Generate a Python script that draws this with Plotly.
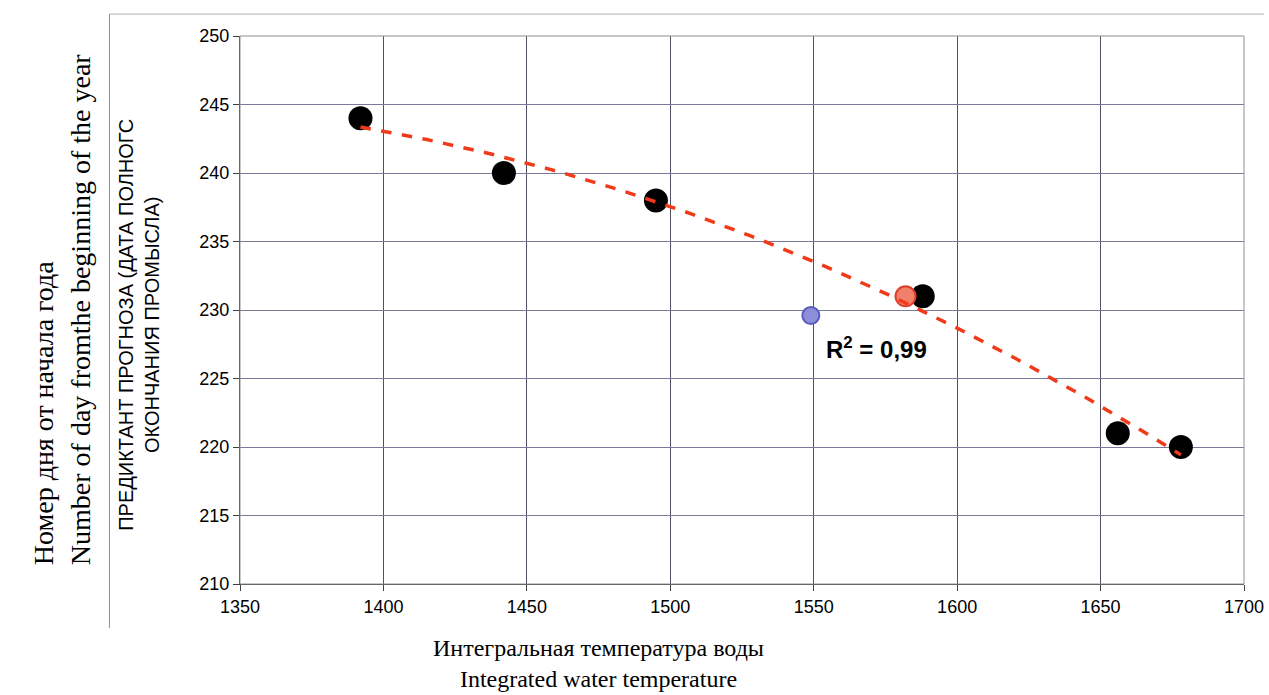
import numpy as np
import plotly.graph_objects as go

# Observed data (black points)
temp_obs = [1392, 1442, 1495, 1588, 1656, 1678]
day_obs = [244, 240, 238, 231, 221, 220]
# Forecast points
temp_fc_orange = [1582]
day_fc_orange = [231]
temp_fc_blue = [1549]
day_fc_blue = [229.6]

x_ticks = [1350, 1400, 1450, 1500, 1550, 1600, 1650, 1700]
y_ticks = [210, 215, 220, 225, 230, 235, 240, 245, 250]

# Polynomial trendline (2nd order) through observed data
coef = np.polyfit(temp_obs, day_obs, 2)
xt = np.linspace(min(temp_obs), max(temp_obs), 100)
yt = np.polyval(coef, xt)

fig = go.Figure()
fig.add_trace(go.Scatter(x=temp_obs, y=day_obs, mode="markers",
                         marker=dict(size=24, color="black"), showlegend=False))
fig.add_trace(go.Scatter(x=temp_fc_orange, y=day_fc_orange, mode="markers",
                         marker=dict(size=20, color="#f0806a", line=dict(color="#e0402a", width=2)),
                         showlegend=False))
fig.add_trace(go.Scatter(x=xt, y=yt, mode="lines",
                         line=dict(color="#f03a1a", width=3.5, dash="dash"), showlegend=False))
fig.add_trace(go.Scatter(x=temp_fc_blue, y=day_fc_blue, mode="markers",
                         marker=dict(size=17, color="#8c8ed8", line=dict(color="#5a5cc0", width=2)),
                         showlegend=False))

axis_font = dict(family="Liberation Sans, Arial", size=18, color="black")
fig.update_xaxes(range=[1350, 1700], tickvals=x_ticks, showgrid=True, gridcolor="#505060",
                 gridwidth=1, ticks="outside", ticklen=6, tickcolor="#404040",
                 showline=True, linecolor="#404040", linewidth=1, tickfont=axis_font,
                 zeroline=False, automargin=False)
fig.update_yaxes(range=[210, 250], tickvals=y_ticks, showgrid=True, gridcolor="#7a7a9a",
                 gridwidth=1, ticks="outside", ticklen=6, tickcolor="#404040",
                 showline=True, linecolor="#404040", linewidth=1, tickfont=axis_font,
                 zeroline=False, automargin=False)

fig.update_layout(
    width=1269, height=695,
    margin=dict(l=240, r=25, t=36, b=111),
    plot_bgcolor="white", paper_bgcolor="white",
    shapes=[
        dict(type="rect", xref="paper", yref="paper", x0=0, x1=1, y0=0, y1=1,
             line=dict(color="#909090", width=1)),
        dict(type="line", xref="paper", yref="paper", x0=-0.13, x1=-0.13, y0=-0.08, y1=1.04,
             line=dict(color="#909090", width=1)),
        dict(type="line", xref="paper", yref="paper", x0=-0.13, x1=1.02, y0=1.04, y1=1.04,
             line=dict(color="#b0b0b0", width=1)),
    ],
    annotations=[
        dict(text="<b>R<sup>2</sup> = 0,99</b>", x=1572, y=227.2, xref="x", yref="y", showarrow=False,
             font=dict(family="Liberation Sans, Arial", size=24, color="black"),
             xanchor="center", yanchor="middle"),
        dict(text="ПРЕДИКТАНТ ПРОГНОЗА (ДАТА ПОЛНОГС<br>ОКОНЧАНИЯ ПРОМЫСЛА)",
             x=-0.1006, y=0.473, xref="paper", yref="paper", showarrow=False, textangle=-90,
             font=dict(family="Liberation Sans Narrow, Liberation Sans, Arial", size=20, color="black"),
             xanchor="center", yanchor="middle"),
        dict(text="Номер дня от начала года<br>Number of day fromthe beginning of the year",
             x=-0.177, y=0.502, xref="paper", yref="paper", showarrow=False, textangle=-90,
             align="left",
             font=dict(family="Liberation Serif, Times New Roman", size=28, color="black"),
             xanchor="center", yanchor="middle"),
        dict(text="Интегральная температура воды<br>Integrated water temperature",
             x=0.357, y=-0.145, xref="paper", yref="paper", showarrow=False,
             font=dict(family="Liberation Serif, Times New Roman", size=24, color="black"),
             xanchor="center", yanchor="middle"),
    ],
)

fig.write_html("out.html", config={"displayModeBar": False},
               post_script="document.body.style.margin='0';document.body.style.overflow='hidden';")
